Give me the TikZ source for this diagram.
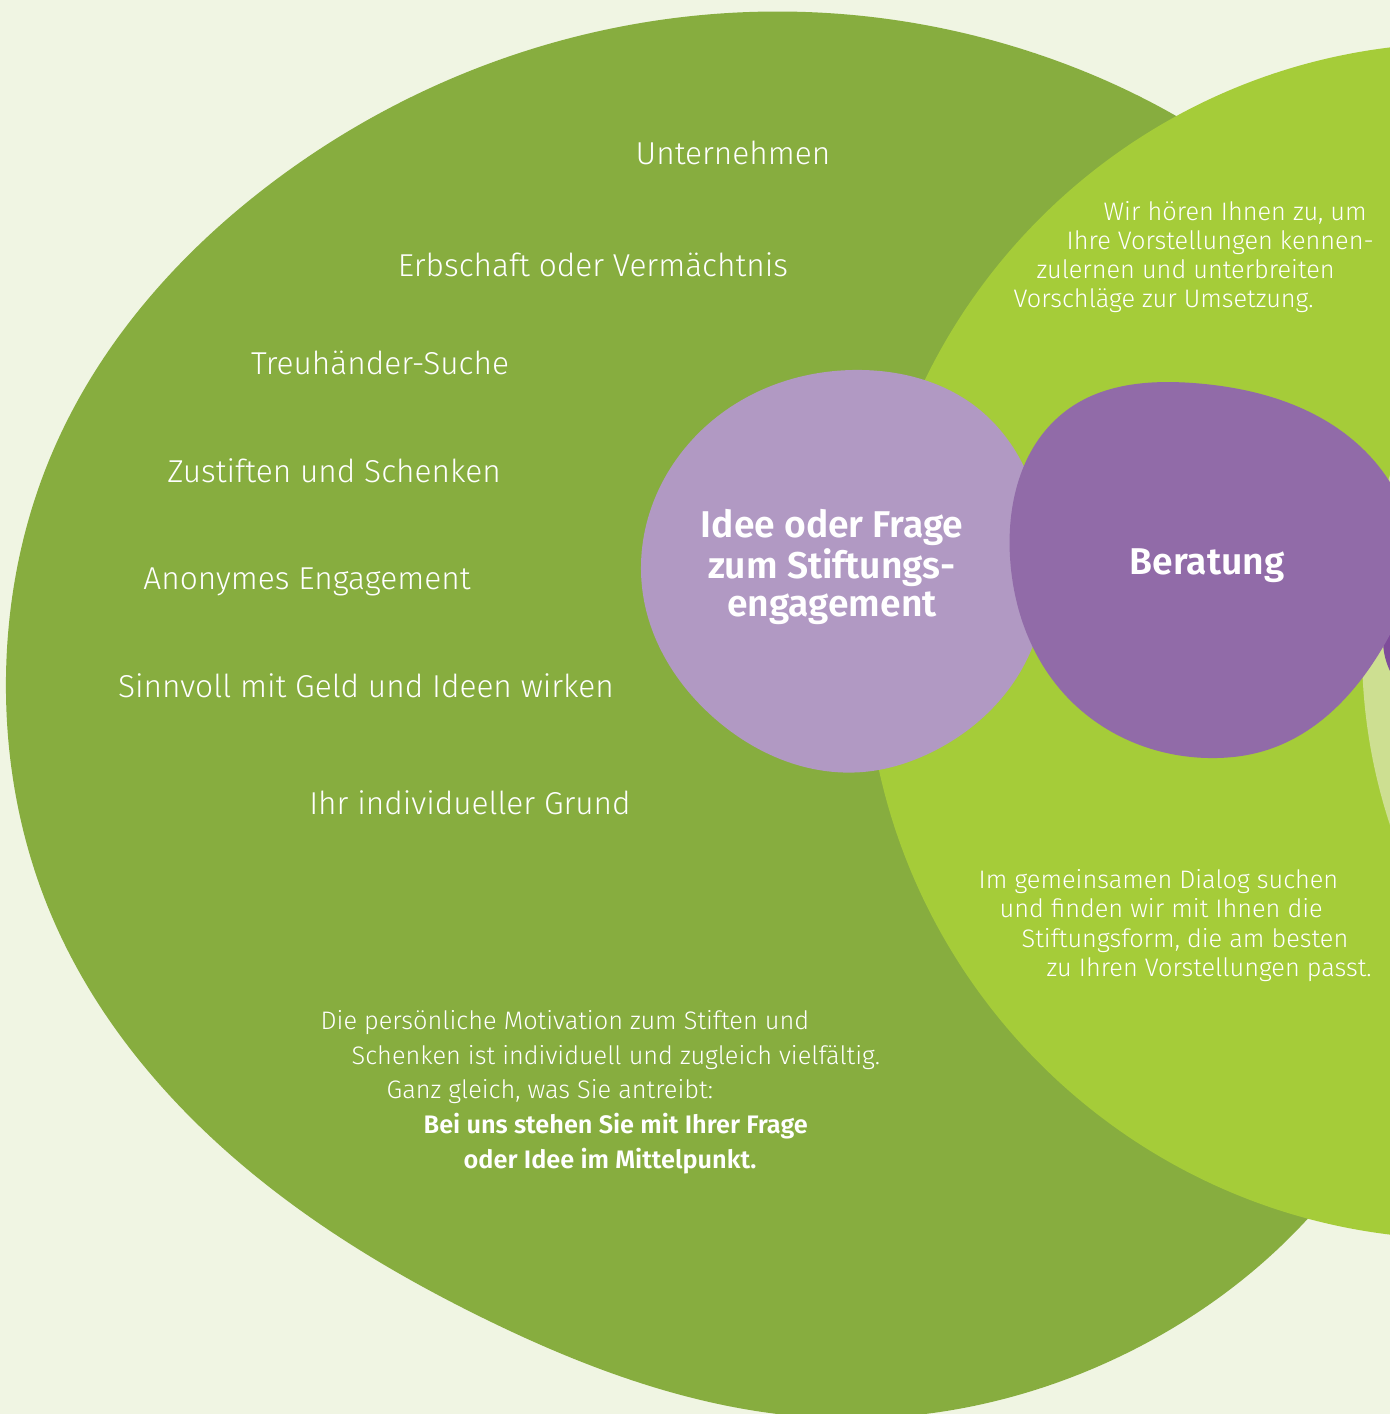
\documentclass[tikz,border=0pt]{standalone}
\usepackage{fontspec}
\setmainfont{Fira Sans}[UprightFont=* Light, BoldFont=* SemiBold]
\usetikzlibrary{hobby}
\definecolor{paper}{HTML}{F0F5E3}
\definecolor{darkleaf}{HTML}{87AD3F}
\definecolor{lightleaf}{HTML}{A5CC39}
\definecolor{paleleaf}{HTML}{CDDF91}
\definecolor{lilac}{HTML}{B199C3}
\definecolor{plum}{HTML}{916BA8}
\definecolor{deepplum}{HTML}{7E4C9A}

\begin{document}
\begin{tikzpicture}[x=0.01cm, y=-0.01cm,
        listitem/.style={text=white, inner sep=0pt, anchor=base, font=\fontsize{9}{10}\selectfont},
        note/.style={text=white, inner sep=0pt, anchor=base west, font=\fontsize{7.2}{8}\selectfont},
        notebold/.style={note, font=\fontsize{7.2}{8}\selectfont\bfseries},
        heading/.style={text=white, inner sep=0pt, align=center, font=\fontsize{10.6}{10.8}\selectfont\bfseries}
    ]
    \useasboundingbox (0,0) rectangle (1390,1414);
    \clip (0,0) rectangle (1390,1414);
    \fill[paper] (0,0) rectangle (1390,1414);

    % the big circles
    \fill[darkleaf, closed hobby] plot coordinates {
        (749,12) (1060,62) (1400,330) (1490,700) (1300,1227) (1133,1350)
        (825,1418) (481,1317) (225,1150) (50,912) (6,677) (50,458) (265,188)};
    \fill[lightleaf] (1463,641) circle[radius=598];
    \fill[paleleaf] (1920,650) circle[radius=558];
    \fill[deepplum] (1455,640) circle[radius=72];

    % the two blobs
    \fill[lilac, closed hobby] plot coordinates {
        (863,370) (980,410) (1045,540) (1030,653) (930,753) (863,772)
        (713,717) (642,587) (713,420)};
    \fill[plum, closed hobby] plot coordinates {
        (1193,383) (1367,453) (1412,560) (1383,647) (1267,750) (1217,758)
        (1067,697) (1010,557) (1067,410)};

    \node[heading] (idea) at (832,567) {Idee oder Frage\\zum Stiftungs-\\engagement};
    \node[heading] (advice) at (1207,566) {Beratung};

    % reasons
    \node[listitem] (r1) at (733,164) {Unternehmen};
    \node[listitem] (r2) at (593,276) {Erbschaft oder Vermächtnis};
    \node[listitem] (r3) at (380,374) {Treuhänder-Suche};
    \node[listitem] (r4) at (334,482) {Zustiften und Schenken};
    \node[listitem] (r5) at (307,589) {Anonymes Engagement};
    \node[listitem] (r6) at (366,697) {Sinnvoll mit Geld und Ideen wirken};
    \node[listitem] (r7) at (470,814) {Ihr individueller Grund};

    % upper right text
    \node[note] (u1) at (1103,220) {Wir hören Ihnen zu, um};
    \node[note] (u2) at (1066,249) {Ihre Vorstellungen kennen-};
    \node[note] (u3) at (1036,278) {zulernen und unterbreiten};
    \node[note] (u4) at (1013,307) {Vorschläge zur Umsetzung.};

    % lower right text
    \node[note] (l1) at (978,888) {Im gemeinsamen Dialog suchen};
    \node[note] (l2) at (999,917) {und finden wir mit Ihnen die};
    \node[note] (l3) at (1021,947) {Stiftungsform, die am besten};
    \node[note] (l4) at (1046,976) {zu Ihren Vorstellungen passt.};

    % motivation
    \node[note] (m1) at (320,1029) {Die persönliche Motivation zum Stiften und};
    \node[note] (m2) at (351,1064) {Schenken ist individuell und zugleich vielfältig.};
    \node[note] (m3) at (386,1098) {Ganz gleich, was Sie antreibt:};
    \node[notebold] (m4) at (423,1133) {Bei uns stehen Sie mit Ihrer Frage};
    \node[notebold] (m5) at (463,1168) {oder Idee im Mittelpunkt.};
\end{tikzpicture}
\end{document}
